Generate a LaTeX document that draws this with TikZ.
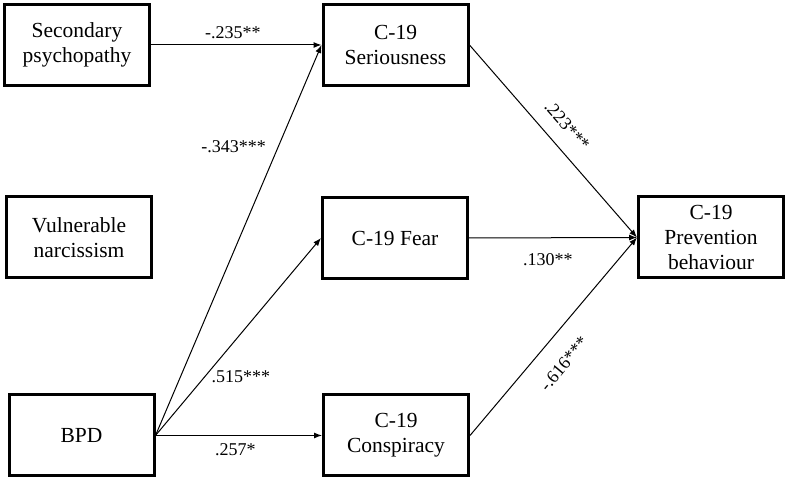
\documentclass[tikz,border=0pt]{standalone}
\usepackage{fontspec}
\setmainfont{Liberation Serif}
\usetikzlibrary{arrows.meta}
\begin{document}
\begin{tikzpicture}[x=1pt,y=1pt,
  box/.style={draw, line width=3pt, minimum width=145pt, minimum height=81pt,
    align=center, inner sep=2pt, font=\fontsize{21.5}{25}\selectfont},
  path/.style={line width=1pt, -{Latex[length=8pt,width=6pt]}},
  lab/.style={inner sep=0pt, font=\fontsize{18}{20}\selectfont}]
\useasboundingbox (0,0) rectangle (789,481);
\node[box] (sp)   at (77,436)    {Secondary\\psychopathy};
\node[box] (vn)   at (79,243.5)  {Vulnerable\\narcissism};
\node[box] (bpd)  at (81.5,45.5) {BPD};
\node[box] (ser)  at (395.5,436) {C-19\\Seriousness};
\node[box] (fear) at (395,243)   {C-19 Fear};
\node[box] (con)  at (396,45.5)  {C-19\\Conspiracy};
\node[box] (prev) at (711,243.5) {C-19\\Prevention\\behaviour};
\draw[path] (sp.east) -- node[lab, pos=0.48, above=6pt] {-.235**} (ser.west);
\draw[path] (bpd.east) -- node[lab, pos=0.74, left=12pt] {-.343***} (ser.west);
\draw[path] (bpd.east) -- node[lab, pos=0.3, right=6pt] {.515***} (fear.west);
\draw[path] (bpd.east) -- node[lab, pos=0.48, below=8pt] {.257*} (con.west);
\draw[path] (ser.east) -- node[lab, pos=0.49, sloped, above=14pt] {.223***} (prev.west);
\draw[path] (fear.east) -- node[lab, pos=0.47, below=15pt] {.130**} (prev.west);
\draw[path] (con.east) -- node[lab, pos=0.445, sloped, below=19pt] {-.616***} (prev.west);
\end{tikzpicture}
\end{document}
